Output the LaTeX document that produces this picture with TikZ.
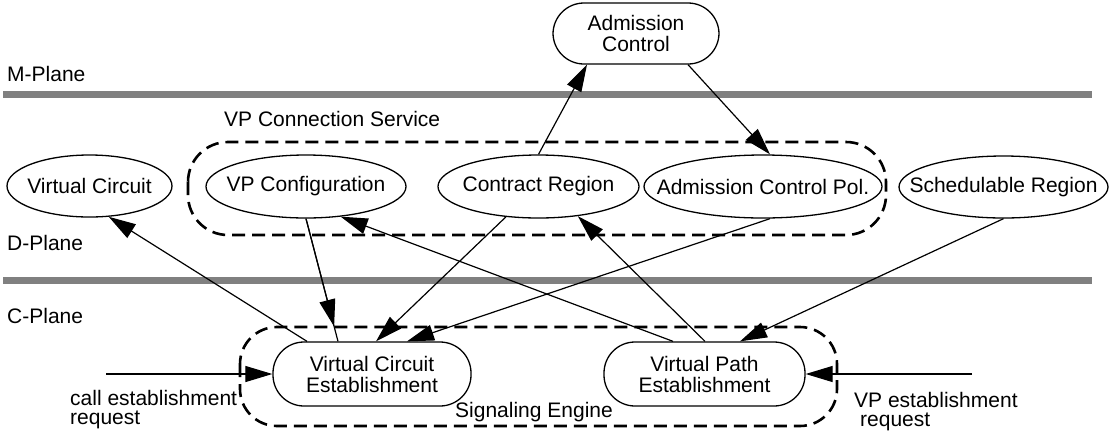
\documentclass[tikz,border=0pt]{standalone}
\usepackage{fontspec}
\setmainfont{Liberation Sans}
\usetikzlibrary{arrows.meta,shapes.geometric,calc}
\definecolor{planegray}{RGB}{128,128,128}

\begin{document}
\begin{tikzpicture}[x=1pt,y=-1pt,
  every node/.style={font=\fontsize{21}{21}\selectfont},
  oval/.style={ellipse,draw,line width=1.3pt,inner sep=0pt,minimum height=63pt},
  pill/.style={rectangle,draw,line width=1.3pt,rounded corners=31pt,minimum height=63pt,align=center,inner sep=0pt},
  conn/.style={line width=1.2pt,-{Triangle[length=27pt,width=16pt]}},
  plain/.style={line width=1.2pt},
  group/.style={line width=2.6pt,dash pattern=on 13pt off 7pt},
  lbl/.style={anchor=base west,inner sep=0pt},
  twoline/.style={anchor=north west,inner sep=0pt,align=left,font=\fontsize{21}{19}\selectfont}
]
\useasboundingbox (0,0) rectangle (1111,432);

% plane separators
\fill[planegray] (3,90.5) rectangle (1092,97.5);
\fill[planegray] (3,276.5) rectangle (1092,283.5);

% plane labels
\node[lbl] (mplane) at (7,81) {M-Plane};
\node[lbl] (dplane) at (7,250) {D-Plane};
\node[lbl] (cplane) at (7,323.5) {C-Plane};

% service groups
\draw[group,rounded corners=40pt] (188,142) rectangle (886,235);
\node[lbl] (vpcs) at (224,126) {VP Connection Service};
\draw[group,rounded corners=37pt] (240,327) rectangle (837,426);
\node[lbl] (se) at (455,417.5) {Signaling Engine};

% M-plane
\node[pill,minimum width=166pt,minimum height=61pt] (ac) at (636,33.5) {Admission\\Control};

% D-plane
\node[oval,minimum width=165pt,minimum height=62pt] (vc) at (89.5,186) {\makebox[0pt]{Virtual Circuit}};
\node[oval,minimum width=200pt] (vpc) at (306,186.5) {\makebox[0pt]{VP Configuration}};
\node[oval,minimum width=201pt] (cr) at (538.5,186.5) {\makebox[0pt]{Contract Region}};
\node[oval,minimum width=238pt] (acp) at (763,186.5) {\makebox[0pt]{Admission Control Pol.}};
\node[oval,minimum width=209pt,minimum height=62pt] (sr) at (1003.5,187) {\makebox[0pt]{Schedulable Region}};

% C-plane
\node[pill,minimum width=198pt,minimum height=64pt] (vce) at (372,374) {Virtual Circuit\\Establishment};
\node[pill,minimum width=201pt,minimum height=64pt] (vpe) at (704.5,374) {Virtual Path\\Establishment};

% external requests
\coordinate (callin) at (106,374);
\coordinate (vpin) at (972,374);
\node[twoline] (callreq) at (70,390) {call establishment\\request};
\node[twoline] (vpreq) at (854,392) {VP establishment\\\hspace*{6pt}request};

% connectors
\draw[conn] (cr.north) -- ([xshift=-49pt]ac.south);
\draw[conn] ([xshift=52pt]ac.south) -- ([xshift=7pt]acp.north);
\draw[conn] ([xshift=-65pt]vce.north) -- (vc.-58.5);
\draw[plain] (vpc.south) -- ([xshift=-34pt]vce.north);
\draw[conn] (vpc.south) -- ($(vpc.south)!0.879!([xshift=-34pt]vce.north)$);
\draw[conn] (cr.-137.5) -- ([xshift=4pt]vce.north);
\draw[conn] ([xshift=7pt]acp.south) -- ([xshift=35pt]vce.north);
\draw[conn] ([xshift=-31.5pt]vpe.north) -- (vpc.-41);
\draw[conn] ([xshift=0.5pt]vpe.north) -- (cr.-37);
\draw[conn] (sr.south) -- ([xshift=35.5pt]vpe.north);
\draw[conn] (callin) -- (vce.west);
\draw[conn] (vpin) -- (vpe.east);
\end{tikzpicture}
\end{document}
